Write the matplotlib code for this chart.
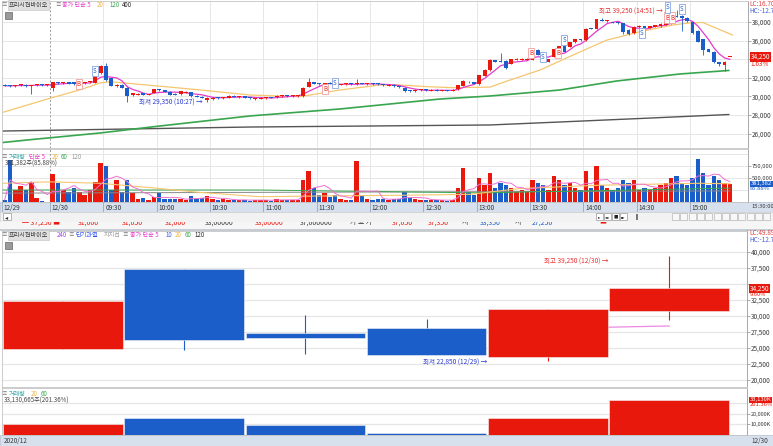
import matplotlib
matplotlib.use("Agg")
import matplotlib.pyplot as plt
from matplotlib.patches import Rectangle
import numpy as np
import pandas as pd

plt.rcParams["font.family"] = ["Noto Sans CJK KR", "DejaVu Sans"]

W, H = 773, 446
RED = "#e8180c"; BLUE = "#1b5dc9"; PINK = "#e23ccb"; ORANGE = "#f5c66e"
GREEN = "#38a64e"; TEAL = "#2fa3a3"; GRID = "#e6e6e6"; STRIP = "#d7e1ee"; TXT = "#3a3a3a"
AXFS = 4.6   # axis label size
HDFS = 4.4   # header size

# ---- 3-minute candles: last 9 bars of 12/29, then 12/30 09:00 .. closing auction ----
opens = [31250, 31150, 31100, 31200, 31250, 31150, 31200, 31250, 31200, 30900,
         31500, 31400, 31550, 31500, 31300, 31400, 31500, 31450, 32500, 33250,
         31950, 31100, 31250, 30950, 30100, 30200, 30350, 30150, 30400, 30750,
         30650, 30500, 30300, 30250, 30400, 30450, 30050, 29950, 29650, 29700,
         29850, 29800, 29850, 30050, 29900, 30000, 29850, 29700, 29750, 29800,
         29900, 29900, 30000, 30100, 30000, 30000, 30000, 31050, 31550, 31400,
         31200, 31450, 31350, 31250, 31300, 31350, 31300, 31400, 31300, 31350,
         31350, 31300, 31150, 31250, 31100, 30950, 30650, 30550, 30650, 30700,
         30600, 30700, 30600, 30650, 30600, 30750, 31150, 31600, 31550, 31300,
         32200, 32800, 33900, 33800, 33850, 33500, 33950, 33950, 33950, 33950,
         34950, 34450, 33700, 34250, 35000, 35400, 35350, 35800, 36150, 36050,
         37350, 37300, 38250, 38100, 38000, 37950, 37850, 37150, 36800, 37450,
         37550, 37400, 37500, 37550, 37700, 37850, 38650, 38600, 38450, 38000,
         37050, 36150, 35100, 34800, 33650, 33400, 34250]
closes = [31150, 31100, 31200, 31250, 31150, 31200, 31250, 31200, 31250, 31500,
          31400, 31500, 31350, 31300, 31450, 31500, 31650, 32500, 33250, 31800,
          31150, 31250, 30950, 30050, 30350, 30300, 30150, 30250, 30750, 30650,
          30500, 30200, 30200, 30550, 30500, 30000, 29950, 29850, 29850, 29850,
          29800, 29900, 30050, 29950, 30000, 29850, 29800, 29800, 29850, 29850,
          29850, 30050, 30100, 30000, 30050, 30100, 30950, 31600, 31350, 31300,
          31400, 31350, 31200, 31300, 31350, 31300, 31400, 31350, 31350, 31300,
          31300, 31200, 31250, 31100, 31000, 30600, 30550, 30700, 30700, 30650,
          30700, 30600, 30650, 30600, 30700, 31200, 31650, 31500, 31350, 32300,
          32850, 33900, 33750, 33700, 33050, 34000, 34050, 34050, 34050, 34700,
          34450, 33950, 34000, 35100, 35400, 34800, 35800, 36150, 36050, 37300,
          37250, 38300, 38150, 38200, 37900, 37850, 36950, 36700, 37500, 37600,
          37350, 37550, 37650, 37800, 37950, 38400, 38550, 38450, 38100, 36800,
          35900, 35000, 34800, 33650, 33500, 33750, 34250]
highs = [31300, 31250, 31250, 31300, 31300, 31250, 31300, 31300, 31300, 31600,
         31550, 31550, 31600, 31550, 31500, 31550, 31700, 32550, 33350, 33550,
         32000, 31350, 31300, 31000, 30400, 30350, 30400, 30300, 30800, 30800,
         30700, 30550, 30350, 30600, 30550, 30500, 30100, 30000, 29900, 29900,
         29900, 29950, 30100, 30100, 30050, 30050, 29900, 29850, 29900, 29900,
         29950, 30100, 30150, 30150, 30100, 30150, 31000, 31950, 31600, 31450,
         31450, 31500, 31400, 31350, 31400, 31400, 31850, 31450, 31400, 31400,
         31400, 31350, 31300, 31300, 31150, 31000, 30700, 30750, 30750, 30750,
         30750, 30750, 30700, 30700, 30750, 31250, 31800, 31650, 31600, 32350,
         32900, 34000, 33950, 34700, 33900, 34050, 34100, 34100, 34100, 34750,
         35100, 34500, 34050, 35150, 35450, 35450, 35850, 36200, 36200, 37350,
         37400, 38350, 38400, 38250, 38050, 38000, 37900, 37200, 37550, 37650,
         37600, 37600, 37700, 37850, 38000, 38450, 39250, 38700, 38550, 38050,
         37100, 36200, 35150, 34850, 33750, 33800, 34250]
lows = [31100, 31000, 31050, 31150, 31050, 30250, 31150, 31150, 31150, 30600,
        31350, 31350, 31300, 31250, 31250, 31350, 31450, 31400, 32400, 31700,
        31100, 31000, 30900, 29400, 30050, 30150, 30100, 30100, 30350, 30600,
        30450, 30150, 30150, 30200, 30350, 29950, 29900, 29800, 29350, 29650,
        29750, 29750, 29800, 29900, 29850, 29800, 29750, 29650, 29700, 29750,
        29800, 29850, 29950, 29950, 29950, 29950, 29950, 31000, 31300, 31250,
        31150, 31300, 31150, 31200, 31250, 31250, 31250, 31300, 31250, 31250,
        31250, 31150, 31100, 31050, 30950, 30500, 30500, 30500, 30600, 30600,
        30550, 30550, 30550, 30550, 30550, 30700, 31100, 31450, 31300, 31250,
        32150, 32750, 33700, 33650, 33000, 33450, 33900, 33900, 33900, 33900,
        34400, 33900, 33650, 34200, 34950, 34750, 35300, 35750, 36000, 36000,
        37200, 37250, 38100, 38050, 37850, 37800, 36750, 36650, 36750, 37400,
        37300, 37350, 37450, 37500, 37650, 37800, 38500, 37000, 38000, 36750,
        35850, 34450, 34750, 33600, 33300, 32750, 34250]
volumes = [45, 875, 250, 333, 250, 410, 77, 27, 10, 583,
           389, 250, 215, 285, 215, 146, 250, 410, 820, 750,
           250, 458, 200, 458, 194, 56, 90, 42, 97, 180,
           70, 60, 60, 56, 42, 132, 70, 90, 125, 70,
           42, 56, 42, 40, 35, 50, 30, 45, 40, 35,
           30, 60, 50, 40, 35, 45, 450, 650, 300, 150,
           180, 110, 140, 60, 50, 40, 850, 120, 60, 50,
           60, 70, 50, 60, 70, 200, 80, 60, 40, 35,
           40, 50, 35, 30, 40, 300, 700, 200, 150, 500,
           350, 600, 300, 400, 350, 300, 200, 250, 200, 450,
           400, 350, 250, 550, 450, 350, 400, 300, 250, 650,
           300, 750, 350, 300, 250, 300, 450, 400, 450, 250,
           300, 250, 300, 350, 400, 500, 550, 400, 350, 500,
           900, 600, 350, 550, 450, 400, 381]  # thousand shares

time_idx = [0, 9, 19, 29, 39, 49, 59, 69, 79, 89, 99, 109, 119, 129]
time_lbl = ["12/29", "12/30", "09:30", "10:00", "10:30", "11:00", "11:30",
            "12:00", "12:30", "13:00", "13:30", "14:00", "14:30", "15:00"]

# longer averages: (bar position, value)
ma20_idx = [0.2, 9, 14.6, 18.4, 20.3, 29.6, 37.1, 46.5, 55.9, 63.4, 70.9, 74.6,
            79.7, 84.6, 91.5, 94.7, 100.9, 107.1, 113.4, 119.6, 125.8, 129, 131.4, 137]
ma20_val = [28300, 29800, 30700, 31450, 31580, 31100, 30700, 30150, 29970, 30690, 31230, 31230,
            31050, 30940, 31000, 31650, 32840, 34450, 36050, 36950, 37680, 37900, 37950, 36600]
ma120_idx = [0.2, 4.7, 18.4, 29.6, 46.5, 63.4, 82.1, 91.5, 104.6, 115.3, 127.1, 136.3]
ma120_val = [25050, 25315, 26070, 26820, 27900, 28650, 29720, 30045, 30690, 31660, 32410, 32790]
ma400_idx = [0.2, 46.5, 91.5, 104.6, 119.6, 136.3]
ma400_val = [26280, 26710, 26930, 27250, 27625, 28055]
vma20_idx = [0.2, 9, 18.4, 27.8, 37.1, 48.4, 59.6, 74.6, 87.8, 97.1, 112.1, 130.9, 136.5]
vma20_val = [390, 420, 390, 300, 200, 110, 125, 140, 160, 280, 350, 390, 380]
vma60_idx = [0.2, 48, 90, 136.5]
vma60_val = [250, 250, 190, 290]
vma120_idx = [0.2, 136.5]
vma120_val = [185, 230]

# buy / sell signal markers
sig_idx = [14.4, 17.4, 60.6, 62.4, 99.2, 101.4, 104.3, 105.4, 120.0, 124.8, 125.7, 124.8, 127.5]
sig_price = [31335, 32765, 30765, 31475, 34635, 34270, 34700, 36065, 36785, 38480, 38480, 39560, 39400]
sig_kind = ["B", "S", "B", "S", "B", "S", "B", "S", "S", "B", "B", "S", "S"]

# ---- 240-minute candles (lower chart) ----
d_open = [24800, 37300, 27300, 28000, 23500, 30800]
d_high = [32300, 37300, 30100, 29450, 31100, 39250]
d_low = [24800, 24650, 24000, 23850, 22850, 29350]
d_close = [32300, 26200, 26550, 23850, 31100, 34250]
d_vol = [10000, 15900, 9700, 1800, 16000, 33130.665]  # thousand shares


def box(x0, y0, x1, y1):
    return [x0 / W, 1 - y1 / H, (x1 - x0) / W, (y1 - y0) / H]


def ftext(x, y, s, **kw):
    kw.setdefault("fontsize", HDFS)
    kw.setdefault("va", "center")
    kw.setdefault("color", TXT)
    return fig.text(x / W, 1 - y / H, s, **kw)


def menu(x, y):
    # small "≡" menu glyph in front of header items
    ftext(x, y, "≡", color="#777777", fontsize=4.0, ha="center")


def frect(x0, y0, x1, y1, **kw):
    kw.setdefault("zorder", -1)
    fig.add_artist(Rectangle((x0 / W, 1 - y1 / H), (x1 - x0) / W, (y1 - y0) / H,
                             transform=fig.transFigure, **kw))


def style(ax, fs=AXFS):
    for s in ax.spines.values():
        s.set_color("#c4c4c4"); s.set_linewidth(0.6)
    ax.spines["right"].set_color("#9a9a9a")
    ax.tick_params(axis="x", bottom=False, labelbottom=False)
    ax.yaxis.tick_right()
    ax.tick_params(axis="y", right=True, length=1.8, width=0.5, color="#888",
                   labelsize=fs, labelcolor=TXT, pad=1.0)
    ax.set_facecolor("white")


def candles(ax, x, o, h, l, c, width, min_body, wick_lw, edge=None):
    o, h, l, c = (np.asarray(a, float) for a in (o, h, l, c))
    cols = np.where(c >= o, RED, BLUE)
    ax.vlines(x, l, h, colors=cols, lw=wick_lw, zorder=3)
    body = np.maximum(np.abs(c - o), min_body)
    ax.bar(x, body, width, bottom=np.minimum(o, c), color=cols,
           edgecolor=edge if edge else cols, lw=0.4 if edge else 0, zorder=4)
    return cols


def tag(ax, y, s, fc, fs=AXFS):
    ax.text(1.004, y, s, transform=ax.get_yaxis_transform(), fontsize=fs, color="white",
            va="center", ha="left", clip_on=False, zorder=10,
            bbox=dict(boxstyle="square,pad=0.12", fc=fc, ec="none"))


fig = plt.figure(figsize=(W / 100, H / 100), dpi=100)

# ================= upper intraday chart =================
n = len(closes)
xs = np.arange(n) + 0.5
ax = fig.add_axes(box(2, 1, 748, 148))
style(ax)
ax.set_xlim(0, 139.9)
ax.set_ylim(24455, 40257)
yt = list(range(26000, 39000, 2000))
ax.set_yticks(yt)
ax.set_yticklabels([f"{v:,}" if v != 34000 else "" for v in yt])   # 34,000 sits under the price tag
for v in yt:
    ax.axhline(v, color=GRID, lw=0.7, zorder=0)
for t in time_idx[1:]:
    if t == 9:
        ax.axvline(t, color="#999999", lw=0.7, ls=(0, (2, 2)), zorder=0)
    else:
        ax.axvline(t, color=GRID, lw=0.7, zorder=0)
ax.plot(ma400_idx, ma400_val, color="#555555", lw=1.0, zorder=1)
ax.plot(ma120_idx, ma120_val, color=GREEN, lw=1.2, zorder=1)
ax.plot(ma20_idx, ma20_val, color=ORANGE, lw=0.9, zorder=1)
ma5 = pd.Series(closes).rolling(5, min_periods=1).mean()
ax.plot(xs, ma5, color=PINK, lw=0.9, zorder=2)
cols = candles(ax, xs, opens, highs, lows, closes, 0.72, 100, 0.6)

for i, p, k in zip(sig_idx, sig_price, sig_kind):
    c1, c2 = (RED, "#f0a0a0") if k == "B" else (BLUE, "#8aa4e0")
    ax.text(i, p, k, fontsize=4.4, color=c1, ha="center", va="center", zorder=6,
            bbox=dict(boxstyle="square,pad=0.18", fc="white", ec=c2, lw=0.6))

imax = int(np.argmax(highs)); imin = int(np.argmin(lows[9:])) + 9
ax.text(imax - 2.0, highs[imax] - 150, f"최고 {highs[imax]:,} (14:51) →", color="#e83030",
        fontsize=4.7, ha="right", va="center", zorder=7)
ax.text(imin - 0.3, lows[imin], f"최저 {lows[imin]:,} (10:27) →", color="#2a3ad0",
        fontsize=4.7, ha="right", va="center", zorder=7)
tag(ax, closes[-1], f"{closes[-1]:,}", RED)
ftext(750, 64.5, "1.63%", color=RED, fontsize=AXFS)
ftext(749, 4, "LC:16.70", color="#e04040", fontsize=AXFS)
ftext(749, 11, "HC:-12.7", color="#4060e0", fontsize=AXFS)

# header
menu(4, 5)
ftext(9, 5, "프리시젼바이오", color="#333333",
      bbox=dict(boxstyle="square,pad=0.15", fc="#e0e0e0", ec="#c0c0c0", lw=0.4))
menu(57.5, 5)
ftext(62, 5, "종가 단순 5", color=PINK)
ftext(97, 5, "20", color="#f0b040")
ftext(109, 5, "120", color=GREEN)
ftext(122, 5, "400", color="#222222")
frect(5, 12, 12, 19, fc="#9a9a9a", ec="#666666", lw=0.5, zorder=5)

# ================= upper volume =================
av = fig.add_axes(box(2, 149, 748, 202))
style(av, 4.2)
av.set_xlim(0, 139.9)
av.set_ylim(0, 1104)
av.set_yticks([500, 750])
av.set_yticklabels(["500,000", "750,000"])
for v in [250, 500, 750, 1000]:
    av.axhline(v, color=GRID, lw=0.7, zorder=0)
for t in time_idx[1:]:
    if t == 9:
        av.axvline(t, color="#999999", lw=0.7, ls=(0, (2, 2)), zorder=0)
    else:
        av.axvline(t, color=GRID, lw=0.7, zorder=0)
av.bar(xs, volumes, 0.82, color=cols, lw=0, zorder=2)
av.plot(vma120_idx, vma120_val, color="#888888", lw=0.7, zorder=3)
av.plot(vma60_idx, vma60_val, color=GREEN, lw=0.7, zorder=3)
av.plot(vma20_idx, vma20_val, color=ORANGE, lw=0.8, zorder=3)
av.plot(xs, pd.Series(volumes).rolling(5, min_periods=1).mean(), color="#f070d0", lw=0.7, zorder=3)
tag(av, volumes[-1], "381,382", BLUE, 4.2)
ftext(750, 188.5, "85.88%", color=BLUE, fontsize=4.2)
menu(4, 157)
ftext(9, 157, "거래량", color=TEAL)
ftext(29, 157, "단순 5", color=PINK)
ftext(52, 157, "20", color="#f0b040")
ftext(61, 157, "60", color=GREEN)
ftext(71, 157, "120", color="#999999")
ftext(5, 163.5, "381,382주(85.88%)", color="#444444")

# ================= time strip and toolbars =================
frect(0, 202, 773, 212, fc=STRIP, ec="#b4c0d0", lw=0.5)
ast = fig.add_axes(box(2, 202, 748, 212))
ast.set_xlim(0, 139.9); ast.set_ylim(0, 1); ast.axis("off")
for t, s in zip(time_idx, time_lbl):
    ast.axvline(t, color="#9aa6b8", lw=0.6)
    ast.text(t + 0.35, 0.45, s, fontsize=AXFS, color="#333333", va="center", ha="left")
ftext(751, 207, "15:30:00", fontsize=4.2)
frect(0, 212, 773, 222, fc="#f2f2f2", ec="#d0d0d0", lw=0.5)
frect(3, 213.5, 11, 220.5, fc="white", ec="#999999", lw=0.5, zorder=2)
ftext(5, 217, "◂", fontsize=4.5, color="#333333")
for k, g in enumerate(["▸", "◂◂", "■", "▸▸"]):
    frect(596 + k * 8, 213.5, 603 + k * 8, 220.5, fc="white", ec="#999999", lw=0.5, zorder=2)
    ftext(599.5 + k * 8, 217, g, fontsize=3.2, color="#222222", ha="center")
frect(630, 216.5, 670, 217.3, fc="#777777", ec="none", zorder=2)
frect(636, 214, 638, 220, fc="#777777", ec="none", zorder=2)
for k in range(12):
    frect(672 + k * 8.3, 213.5, 679 + k * 8.3, 220.5, fc="#f8f8f8", ec="#aaaaaa", lw=0.4, zorder=2)

# partially hidden quote row
arow = fig.add_axes(box(0, 222, 773, 229))
arow.set_xlim(0, 773); arow.set_ylim(229, 222); arow.axis("off")
arow.add_patch(Rectangle((0, 222), 773, 7, fc="#f6f6f6", ec="none"))
for x0, s, c in [(22, "─ 37,250 ■", RED), (78, "31,000", RED), (122, "31,050", RED),
                 (165, "31,000", RED), (205, "33,00000", TXT), (255, "33,00000", RED),
                 (300, "37,000000", TXT), (350, "가 표 가", TXT), (392, "37,050", RED),
                 (428, "37,350", RED), (462, "시", TXT), (480, "33,350", BLUE),
                 (515, "저", TXT), (532, "27,250", BLUE), (600, "■ ─", RED)]:
    arow.text(x0, 222.2, s, color=c, fontsize=5.0, va="center", ha="left", clip_on=True)
frect(0, 228.5, 773, 230.5, fc="#c6ccd4", ec="none")

# ================= lower 240-minute chart =================
dx = np.arange(len(d_close))
ab = fig.add_axes(box(2, 230.5, 747, 387))
style(ab)
ab.set_xlim(-0.503, 5.643)
ab.set_ylim(18860, 43300)
bt = list(range(20000, 40001, 2500))
ab.set_yticks(bt)
ab.set_yticklabels([f"{v:,}" if v != 35000 else "" for v in bt])   # 35,000 sits under the price tag
for v in bt:
    ab.axhline(v, color=GRID, lw=0.9, zorder=0)
ab.plot(dx, pd.Series(d_close).rolling(5).mean(), color="#ee88e0", lw=0.9, zorder=2)
dcols = candles(ab, dx, d_open, d_high, d_low, d_close, 0.985, 150, 0.8, edge="#f4f4f4")
ab.text(dx[5] - 0.5, d_high[5], f"최고 {d_high[5]:,} (12/30) →", color="#e83030",
        fontsize=4.7, ha="right", va="top", zorder=7)
ab.text(dx[4] - 0.5, d_low[4], f"최저 {d_low[4]:,} (12/29) →", color="#2a3ad0",
        fontsize=4.7, ha="right", va="center", zorder=7)
tag(ab, d_close[-1], f"{d_close[-1]:,}", RED)
ftext(750, 294.3, "9.60%", color=RED, fontsize=4.1)
ftext(749, 233, "LC:49.89", color="#e04040", fontsize=AXFS)
ftext(749, 240, "HC:-12.7", color="#4060e0", fontsize=AXFS)

menu(4, 235)
ftext(9, 235, "프리시젼바이오", color="#333333",
      bbox=dict(boxstyle="square,pad=0.15", fc="#e0e0e0", ec="#c0c0c0", lw=0.4))
ftext(57, 235, "240", color="#a040f0")
menu(71, 235)
ftext(75, 235, "단기과열", color="#3050f0")
ftext(104, 235, "지지선", color="#999999")
menu(125, 235)
ftext(129.5, 235, "종가 단순 5", color=PINK)
ftext(165, 235, "10", color="#4060f0")
ftext(175, 235, "20", color="#f0b040")
ftext(185, 235, "60", color=GREEN)
ftext(195, 235, "120", color="#222222")
frect(5, 242, 12, 249, fc="#9a9a9a", ec="#666666", lw=0.5, zorder=5)

# ================= lower volume =================
abv = fig.add_axes(box(2, 388, 747, 435))
style(abv, 4.0)
abv.set_xlim(-0.503, 5.643)
abv.set_ylim(0, 44340)
abv.set_yticks([10000, 20000])
abv.set_yticklabels(["10,000K", "20,000K"])
for v in [10000, 20000, 30000]:
    abv.axhline(v, color=GRID, lw=0.9, zorder=0)
abv.bar(dx, d_vol, 0.985, color=dcols, edgecolor="#f4f4f4", lw=0.4, zorder=2)
tag(abv, d_vol[-1], "33,130K", RED, 4.2)
ftext(750, 404.5, "201.36%", color=RED, fontsize=4.2)
menu(4, 394)
ftext(9, 394, "거래량", color=TEAL)
ftext(31, 394, "20", color="#f0b040")
ftext(41, 394, "60", color=GREEN)
ftext(4, 401, "33,130,665주(201.36%)", color="#444444")

frect(0, 435, 773, 446, fc=STRIP, ec="#b4c0d0", lw=0.5)
ftext(4, 440.5, "2020/12", fontsize=AXFS)
ftext(751, 440.5, "12/30", fontsize=AXFS)

fig.savefig("out.png", dpi=100)
